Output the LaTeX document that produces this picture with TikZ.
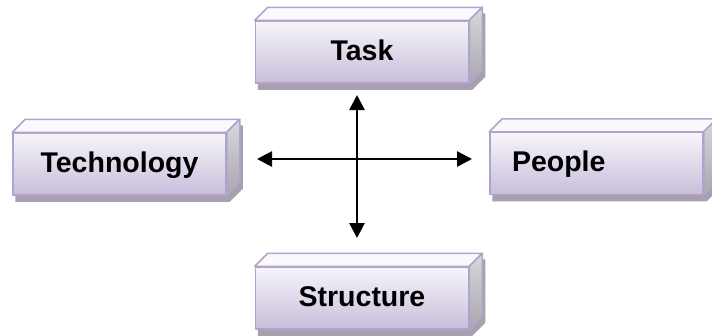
\documentclass[tikz,border=0pt]{standalone}
\usepackage{fontspec}
\setmainfont{Liberation Sans}
\usetikzlibrary{arrows.meta,calc}
\pgfdeclarelayer{background}
\pgfsetlayers{background,main}
\definecolor{frontTop}{HTML}{F7F5FA}
\definecolor{frontBot}{HTML}{C8BEDB}
\definecolor{edgec}{HTML}{B2A2CE}
\definecolor{topFace}{HTML}{FAF9FC}
\definecolor{sideTop}{HTML}{D8D7DC}
\definecolor{sideBot}{HTML}{A8A7AD}
\definecolor{shadowc}{HTML}{A6A1AC}
\tikzset{
  cube/.style={rectangle, minimum width=213pt, minimum height=62pt, inner sep=0pt,
    top color=frontTop, bottom color=frontBot, draw=edgec, line width=1.5pt,
    font=\fontsize{28.5}{32}\selectfont\bfseries, text height=20pt, text depth=4pt},
  topface/.style={fill=topFace, draw=edgec, line width=1.5pt, line join=round},
  sideface/.style={top color=sideTop, bottom color=sideBot, draw=edgec, line width=1.5pt, line join=round},
  shadowface/.style={fill=shadowc},
  conn/.style={line width=2.7pt, {Triangle[length=15pt,width=15pt]}-{Triangle[length=15pt,width=15pt]}},
}
\newcommand\cubedeco[1]{%
  \begin{pgfonlayer}{background}
    \fill[shadowface] ($(#1.south west)+(3,6)$) -- ($(#1.south east)+(3,6)$)
      -- ($(#1.south east)+(16,-7)$) -- ($(#1.north east)+(16,-7)$)
      -- ($(#1.north west)+(16,-7)$) -- ($(#1.north west)+(3,6)$) -- cycle;
  \end{pgfonlayer}
  \draw[topface] (#1.north west) -- ($(#1.north west)+(13,-13)$)
    -- ($(#1.north east)+(13,-13)$) -- (#1.north east) -- cycle;
  \draw[sideface] (#1.north east) -- ($(#1.north east)+(13,-13)$)
    -- ($(#1.south east)+(13,-13)$) -- (#1.south east) -- cycle;
}
\begin{document}
\begin{tikzpicture}[x=1pt,y=-1pt]
  \useasboundingbox (0,0) rectangle (712,335);
  \clip (0,0) rectangle (712,335);
  \node[cube] (task) at (362,52) {Task};
  \cubedeco{task}
  \node[cube] (tech) at (119.5,164) {Technology};
  \cubedeco{tech}
  \node[cube, text width=169pt, align=left] (people) at (596.5,163.5) {People};
  \cubedeco{people}
  \node[cube] (struct) at (362,298) {Structure};
  \cubedeco{struct}
  \coordinate (up) at (357,95);
  \coordinate (down) at (357,238);
  \coordinate (left) at (257,159);
  \coordinate (right) at (472,159);
  \draw[conn] (up) -- (down);
  \draw[conn] (left) -- (right);
\end{tikzpicture}
\end{document}
